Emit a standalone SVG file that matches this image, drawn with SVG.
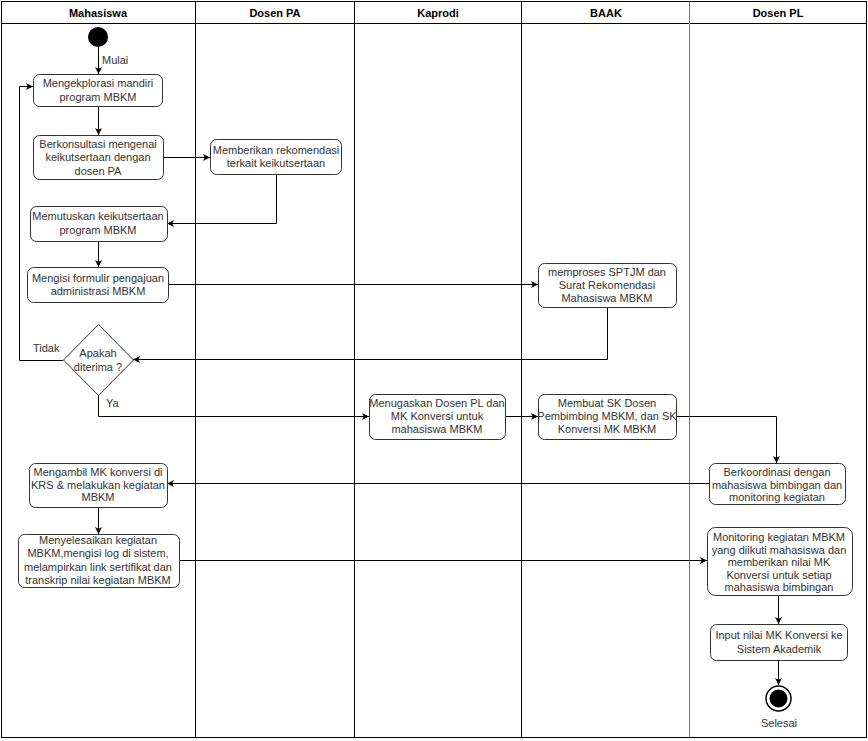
<svg xmlns="http://www.w3.org/2000/svg" width="868" height="741" viewBox="0 0 868 741">
<style>
.lane{fill:none;stroke:#000;stroke-width:1}
.hdr{font-family:"Liberation Sans",Arial,sans-serif;font-size:11px;font-weight:bold;fill:#000;text-anchor:middle}
.box{fill:#fff;stroke:#333;stroke-width:1}
.t{font-family:"Liberation Sans",Arial,sans-serif;font-size:11px;fill:#333;text-anchor:middle}
.lbl{font-family:"Liberation Sans",Arial,sans-serif;font-size:11px;fill:#333}
.c{fill:none;stroke:#000;stroke-width:1}
</style>
<defs>
<marker id="arr" viewBox="0 0 10 10" refX="10" refY="5" markerWidth="7" markerHeight="7" orient="auto" markerUnits="userSpaceOnUse">
<path d="M0,0 L10,5 L0,10 L2.5,5 Z" fill="#000"/>
</marker>
</defs>
<rect x="0" y="0" width="868" height="741" fill="#fff"/>
<g id="lanes">
<rect class="lane" x="1.5" y="1.5" width="865" height="736"/>
<line class="lane" x1="1.5" y1="23.5" x2="866.5" y2="23.5"/>
<line class="lane" x1="195.5" y1="1.5" x2="195.5" y2="737.5"/>
<line class="lane" x1="354.5" y1="1.5" x2="354.5" y2="737.5"/>
<line class="lane" x1="521.5" y1="1.5" x2="521.5" y2="737.5"/>
<line class="lane" x1="689.5" y1="1.5" x2="689.5" y2="737.5" style="stroke:#777"/>
<text class="hdr" x="98" y="17">Mahasiswa</text>
<text class="hdr" x="275" y="17">Dosen PA</text>
<text class="hdr" x="438" y="17">Kaprodi</text>
<text class="hdr" x="606" y="17">BAAK</text>
<text class="hdr" x="778" y="17">Dosen PL</text>
</g>
<g id="connectors">
<path class="c" d="M98.5,47 L98.5,74" marker-end="url(#arr)"/>
<text class="lbl" x="102" y="64">Mulai</text>
<path class="c" d="M98.5,106 L98.5,135" marker-end="url(#arr)"/>
<path class="c" d="M163,157.5 L210,157.5" marker-end="url(#arr)"/>
<path class="c" d="M276.5,174 L276.5,223.5 L167,223.5" marker-end="url(#arr)"/>
<path class="c" d="M98.5,241 L98.5,267" marker-end="url(#arr)"/>
<path class="c" d="M168,284.5 L538,284.5" marker-end="url(#arr)"/>
<path class="c" d="M607.5,307 L607.5,359.5 L133,359.5" marker-end="url(#arr)"/>
<path class="c" d="M63,360.5 L19.5,360.5 L19.5,86.5 L33,86.5" marker-end="url(#arr)"/>
<text class="lbl" x="33" y="352">Tidak</text>
<path class="c" d="M98.5,395 L98.5,416.5 L369,416.5" marker-end="url(#arr)"/>
<text class="lbl" x="106" y="407">Ya</text>
<path class="c" d="M505,416.5 L538,416.5" marker-end="url(#arr)"/>
<path class="c" d="M676,416.5 L776.5,416.5 L776.5,463" marker-end="url(#arr)"/>
<path class="c" d="M709,483.5 L167,483.5" marker-end="url(#arr)"/>
<path class="c" d="M98.5,507 L98.5,534" marker-end="url(#arr)"/>
<path class="c" d="M179,560.5 L707,560.5" marker-end="url(#arr)"/>
<path class="c" d="M778.5,595 L778.5,624" marker-end="url(#arr)"/>
<path class="c" d="M778.5,660 L778.5,685" marker-end="url(#arr)"/>
</g>
<g id="start">
<circle cx="98" cy="37" r="10" fill="#000"/>
</g>
<g id="n1">
<rect class="box" x="33.5" y="74.5" width="129" height="32" rx="6"/>
<text class="t" x="98" y="87">Mengekplorasi mandiri</text>
<text class="t" x="98" y="101">program MBKM</text>
</g>
<g id="n2">
<rect class="box" x="33.5" y="135.5" width="130" height="44" rx="6"/>
<text class="t" x="98" y="148">Berkonsultasi mengenai</text>
<text class="t" x="98" y="161">keikutsertaan dengan</text>
<text class="t" x="98" y="175">dosen PA</text>
</g>
<g id="n3">
<rect class="box" x="210.5" y="139.5" width="131" height="35" rx="6"/>
<text class="t" x="276" y="154">Memberikan rekomendasi</text>
<text class="t" x="276" y="167">terkait keikutsertaan</text>
</g>
<g id="n4">
<rect class="box" x="30.5" y="206.5" width="137" height="35" rx="6"/>
<text class="t" x="98" y="220">Memutuskan keikutsertaan</text>
<text class="t" x="98" y="234">program MBKM</text>
</g>
<g id="n5">
<rect class="box" x="27.5" y="267.5" width="141" height="35" rx="6"/>
<text class="t" x="98" y="282">Mengisi formulir pengajuan</text>
<text class="t" x="98" y="295">administrasi MBKM</text>
</g>
<g id="decision">
<path d="M98.5,324.5 L133.5,360 L98.5,395.5 L63.5,360 Z" fill="#fff" stroke="#333"/>
<text class="t" x="98" y="357">Apakah</text>
<text class="t" x="98" y="371">diterima ?</text>
</g>
<g id="n6">
<rect class="box" x="538.5" y="263.5" width="138" height="44" rx="6"/>
<text class="t" x="607" y="276">memproses SPTJM dan</text>
<text class="t" x="607" y="289">Surat Rekomendasi</text>
<text class="t" x="607" y="302">Mahasiswa MBKM</text>
</g>
<g id="n7">
<rect class="box" x="369.5" y="394.5" width="136" height="45" rx="6"/>
<text class="t" x="437" y="407">Menugaskan Dosen PL dan</text>
<text class="t" x="437" y="420">MK Konversi untuk</text>
<text class="t" x="437" y="433">mahasiswa MBKM</text>
</g>
<g id="n8">
<rect class="box" x="538.5" y="394.5" width="138" height="45" rx="6"/>
<text class="t" x="607" y="407">Membuat SK Dosen</text>
<text class="t" x="607" y="420">Pembimbing MBKM, dan SK</text>
<text class="t" x="607" y="433">Konversi MK MBKM</text>
</g>
<g id="n9">
<rect class="box" x="709.5" y="463.5" width="136" height="41" rx="6"/>
<text class="t" x="777" y="476">Berkoordinasi dengan</text>
<text class="t" x="777" y="488.5">mahasiswa bimbingan dan</text>
<text class="t" x="777" y="501">monitoring kegiatan</text>
</g>
<g id="n10">
<rect class="box" x="29.5" y="463.5" width="138" height="44" rx="6"/>
<text class="t" x="98" y="476">Mengambil MK konversi di</text>
<text class="t" x="98" y="488.5">KRS &amp; melakukan kegiatan</text>
<text class="t" x="98" y="501">MBKM</text>
</g>
<g id="n11">
<rect class="box" x="18.5" y="534.5" width="161" height="53" rx="6"/>
<text class="t" x="98" y="544">Menyelesaikan kegiatan</text>
<text class="t" x="98" y="557">MBKM,mengisi log di sistem,</text>
<text class="t" x="98" y="570.5">melampirkan link sertifikat dan</text>
<text class="t" x="98" y="583.5">transkrip nilai kegiatan MBKM</text>
</g>
<g id="n12">
<rect class="box" x="707.5" y="527.5" width="145" height="68" rx="8"/>
<text class="t" x="779" y="541">Monitoring kegiatan MBKM</text>
<text class="t" x="779" y="553.5">yang diikuti mahasiswa dan</text>
<text class="t" x="779" y="566">memberikan nilai MK</text>
<text class="t" x="779" y="578.5">Konversi untuk setiap</text>
<text class="t" x="779" y="591">mahasiswa bimbingan</text>
</g>
<g id="n13">
<rect class="box" x="710.5" y="624.5" width="137" height="36" rx="6"/>
<text class="t" x="779" y="639">Input nilai MK Konversi ke</text>
<text class="t" x="779" y="653">Sistem Akademik</text>
</g>
<g id="end">
<circle cx="778.5" cy="698.5" r="12.5" fill="#fff" stroke="#000" stroke-width="1.5"/>
<circle cx="778.5" cy="698.5" r="9" fill="#000"/>
<text class="t" x="779" y="727">Selesai</text>
</g>
</svg>
